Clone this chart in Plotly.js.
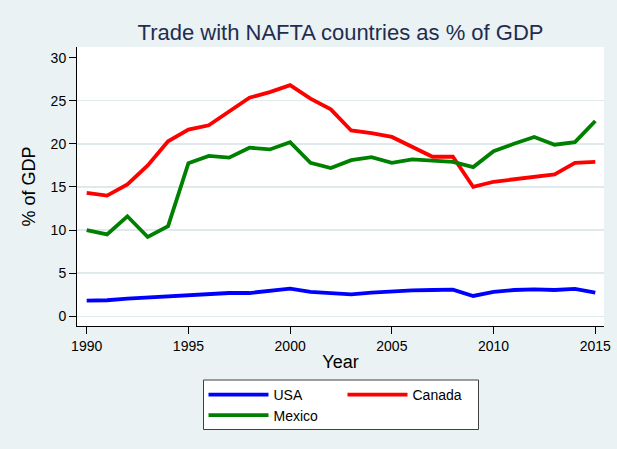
<!DOCTYPE html>
<html>
<head>
<meta charset="utf-8">
<script src="https://cdn.plot.ly/plotly-3.0.1.min.js"></script>
<style>
  html, body { margin: 0; padding: 0; background: #EAF2F3; }
  #chart { width: 617px; height: 449px; }
</style>
</head>
<body>
<div id="chart"></div>
<script>
const years = [1990,1991,1992,1993,1994,1995,1996,1997,1998,1999,2000,2001,2002,2003,2004,2005,2006,2007,2008,2009,2010,2011,2012,2013,2014,2015];
const usa = [1.82,1.86,2.05,2.17,2.36,2.47,2.59,2.7,2.7,2.9,3.21,2.82,2.68,2.55,2.75,2.9,3.0,3.05,3.1,2.36,2.82,3.05,3.13,3.05,3.17,2.75];
const canada = [14.3,14.0,15.3,17.5,20.3,21.65,22.15,23.7,25.35,26.0,26.8,25.25,24.0,21.55,21.25,20.8,19.7,18.5,18.5,15.0,15.6,15.85,16.15,16.45,17.8,17.9];
const mexico = [10.0,9.5,11.6,9.2,10.45,17.75,18.6,18.4,19.55,19.35,20.2,17.8,17.2,18.1,18.45,17.8,18.2,18.0,17.9,17.3,19.15,20.0,20.8,19.9,20.2,22.65];
const seriesNames = ['USA','Canada','Mexico'];
const xTicks = [1990,1995,2000,2005,2010,2015];
const yTicks = [0,5,10,15,20,25,30];
const gridTicks = [0,5,10,15,20,25];

const FONT = 'Liberation Sans, Arial, Helvetica, sans-serif';
const W = 617, H = 449, ML = 77, MR = 13, MT = 47, MB = 123;
const PW = W - ML - MR, PH = H - MT - MB;
const px2x = p => (p - ML) / PW;
const py2y = p => (H - MB - p) / PH;

const traces = [
  {x: years, y: usa, name: seriesNames[0], type: 'scatter', mode: 'lines',
   line: {color: '#0000FF', width: 3.8}, legend: 'legend'},
  {x: years, y: canada, name: seriesNames[1], type: 'scatter', mode: 'lines',
   line: {color: '#FF0000', width: 3.8}, legend: 'legend'},
  {x: years, y: mexico, name: seriesNames[2], type: 'scatter', mode: 'lines',
   line: {color: '#008000', width: 3.8}, legend: 'legend2'}
];

const legendCommon = {
  orientation: 'h', xanchor: 'left', yanchor: 'top',
  bgcolor: 'rgba(0,0,0,0)', borderwidth: 0,
  font: {family: FONT, size: 14, color: '#000'},
  itemwidth: 60, itemclick: false, itemdoubleclick: false,
  entrywidth: 64
};

const layout = {
  width: W, height: H,
  margin: {l: ML, r: MR, t: MT, b: MB, pad: 0},
  paper_bgcolor: '#EAF2F3',
  plot_bgcolor: '#FFFFFF',
  font: {family: FONT, color: '#000'},
  title: {
    text: 'Trade with NAFTA countries as % of GDP',
    font: {family: FONT, size: 22, color: '#1F2D50'},
    x: 0.5, xref: 'paper', xanchor: 'center',
    y: 1 - 32/449, yref: 'container', yanchor: 'middle'
  },
  xaxis: {
    range: [1989.523, 2015.428],
    tickvals: xTicks, ticktext: xTicks.map(String),
    showgrid: false, zeroline: false,
    showline: true, linecolor: '#000', linewidth: 1,
    ticks: 'outside', ticklen: 7, tickwidth: 1, tickcolor: '#000',
    tickfont: {family: FONT, size: 14, color: '#000'},
    title: {text: 'Year', font: {family: FONT, size: 18, color: '#000'}, standoff: 2},
    automargin: false, fixedrange: true
  },
  yaxis: {
    range: [-1.125, 31.229],
    tickvals: yTicks, ticktext: yTicks.map(String),
    showgrid: false, zeroline: false,
    showline: true, linecolor: '#000', linewidth: 1,
    ticks: 'outside', ticklen: 7, tickwidth: 1, tickcolor: '#000',
    tickfont: {family: FONT, size: 14, color: '#000'},
    title: {text: '% of GDP', font: {family: FONT, size: 18, color: '#000'}, standoff: 10},
    automargin: false, fixedrange: true
  },
  yaxis2: {
    overlaying: 'y', matches: 'y', range: [-1.125, 31.229],
    tickvals: gridTicks, showticklabels: false, ticks: '',
    showgrid: true, gridcolor: '#E0E9EC', gridwidth: 1.5,
    zeroline: false, showline: false, fixedrange: true
  },
  showlegend: true,
  legend: Object.assign({}, legendCommon, {x: px2x(203.5), y: py2y(379)}),
  legend2: Object.assign({}, legendCommon, {x: px2x(203.5), y: py2y(399.5)}),
  shapes: [{
    type: 'rect', xref: 'paper', yref: 'paper', layer: 'above',
    x0: px2x(203.5), x1: px2x(478.5), y0: py2y(380), y1: py2y(429.5),
    fillcolor: '#FFFFFF', line: {color: '#404040', width: 1}
  }]
};

// invisible trace so the grid-only overlay axis is drawn
traces.push({x: [years[0]], y: [null], yaxis: 'y2', showlegend: false, hoverinfo: 'skip', mode: 'lines'});

Plotly.newPlot('chart', traces, layout, {displayModeBar: false, staticPlot: true});
</script>
</body>
</html>
